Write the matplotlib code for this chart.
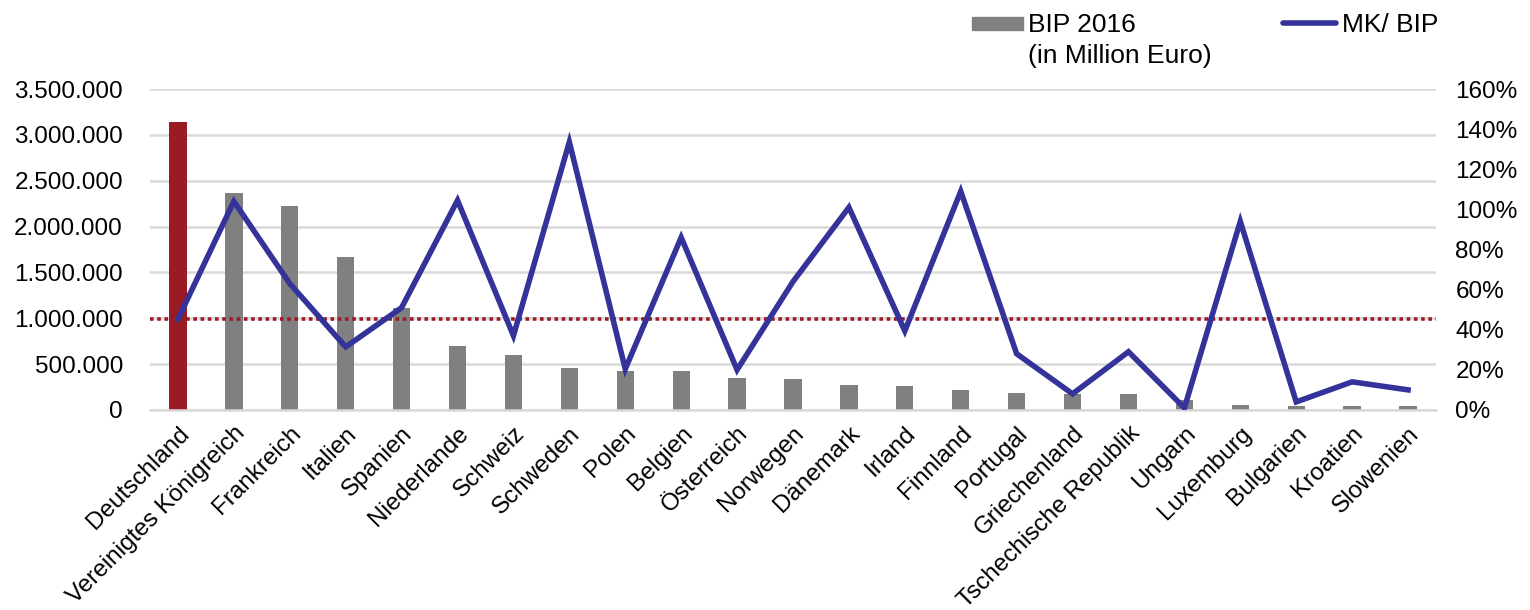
import matplotlib.pyplot as plt
import matplotlib.patches as mpatches
from matplotlib.lines import Line2D
from matplotlib.ticker import FuncFormatter, MultipleLocator

plt.rcParams['font.family'] = ['Liberation Sans', 'DejaVu Sans']

laender = ["Deutschland", "Vereinigtes Königreich", "Frankreich", "Italien", "Spanien",
           "Niederlande", "Schweiz", "Schweden", "Polen", "Belgien", "Österreich",
           "Norwegen", "Dänemark", "Irland", "Finnland", "Portugal", "Griechenland",
           "Tschechische Republik", "Ungarn", "Luxemburg", "Bulgarien", "Kroatien",
           "Slowenien"]
# BIP 2016 in Mio. Euro
bip = [3144000, 2366000, 2225000, 1672000, 1114000, 697000, 600000, 462000, 424000,
       423000, 350000, 335000, 277000, 266000, 215000, 185000, 175000, 176000,
       113000, 53000, 48000, 46000, 40000]
# Marktkapitalisierung / BIP in %
mk_bip = [45.3, 104, 63, 31.4, 51, 104.5, 37, 133.6, 20.4, 86, 20, 64, 101, 39.4,
          109, 28, 8, 29, 1, 94, 4, 14, 10]

grau = "#808080"
rot = "#9B1B24"
blau = "#333399"

fig = plt.figure(figsize=(15.3, 6.1), dpi=100)
ax = fig.add_axes([150 / 1530, 0.328, 1286 / 1530, 0.526])
ax2 = ax.twinx()

x = range(len(laender))
farben = [rot] + [grau] * (len(laender) - 1)
ax.bar(x, bip, width=0.31, color=farben, zorder=2)

ax2.plot(x, mk_bip, color=blau, lw=4, solid_joinstyle="miter", zorder=3)
ax2.axhline(mk_bip[0], color=rot, lw=2.6, linestyle=(0, (1, 1)),
            dash_capstyle="butt", zorder=2)

ax.set_xlim(-0.5, len(laender) - 0.5)
ax.set_ylim(0, 3500000)
ax.yaxis.set_major_locator(MultipleLocator(500000))
ax.yaxis.set_major_formatter(FuncFormatter(lambda v, p: f"{int(v):,}".replace(",", ".")))
ax2.set_ylim(0, 160)
ax2.yaxis.set_major_locator(MultipleLocator(20))
ax2.yaxis.set_major_formatter(FuncFormatter(lambda v, p: f"{int(v)}%"))

ax.grid(axis="y", color="#D9D9D9", lw=1.8, zorder=0)
ax.set_axisbelow(True)
for a in (ax, ax2):
    for s in a.spines.values():
        s.set_visible(False)
    a.tick_params(length=0, labelsize=17.5)
ax.spines["bottom"].set_visible(True)
ax.spines["bottom"].set_color("#D9D9D9")
ax.spines["bottom"].set_linewidth(1.8)
ax.tick_params(axis="y", pad=19.5)
ax2.tick_params(axis="y", pad=14)

ax.set_xticks(list(x))
ax.set_xticklabels(laender, rotation=45, ha="right", rotation_mode="anchor", fontsize=17.5)
ax.tick_params(axis="x", pad=9)

# Legende oben rechts
fig.patches.append(mpatches.Rectangle((972 / 1530, 1 - 30 / 610), 51 / 1530, 13 / 610,
                                      transform=fig.transFigure, color=grau))
fig.text(1028 / 1530, 1 - 32 / 610, "BIP 2016", fontsize=19, va="baseline")
fig.text(1028 / 1530, 1 - 63 / 610, "(in Million Euro)", fontsize=19, va="baseline")
fig.lines.append(Line2D([1283 / 1530, 1336 / 1530], [1 - 23 / 610, 1 - 23 / 610],
                        transform=fig.transFigure, color=blau, lw=4,
                        solid_capstyle="round"))
fig.text(1342 / 1530, 1 - 32 / 610, "MK/ BIP", fontsize=19, va="baseline")

fig.savefig("out.png", dpi=100)
